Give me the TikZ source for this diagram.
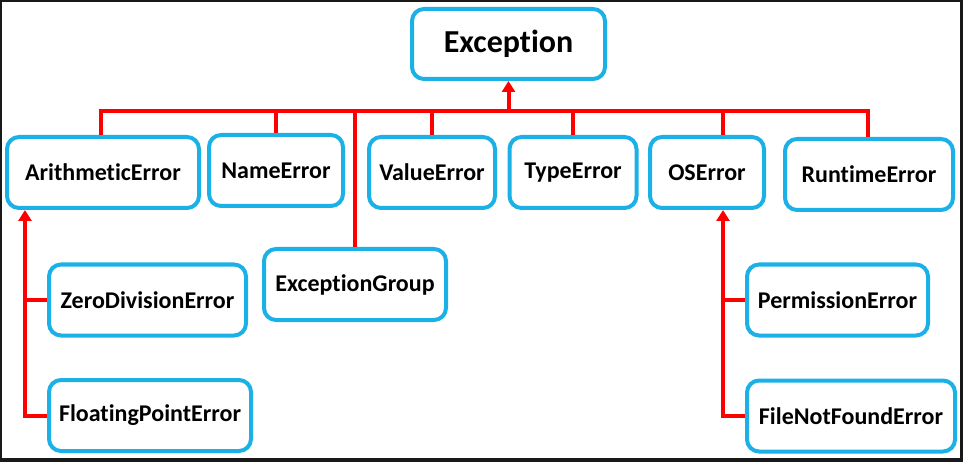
\documentclass[tikz,border=0pt]{standalone}
\usepackage{fontspec}
\setmainfont{Carlito}[Ligatures=NoCommon]
\usetikzlibrary{arrows.meta}
\usepackage{xcolor}
\definecolor{boxblue}{RGB}{27,177,231}
\definecolor{linkred}{RGB}{255,0,0}

\begin{document}
\begin{tikzpicture}[x=1pt, y=-1pt,
    cls/.style={draw=boxblue, line width=4pt, rounded corners=12pt, fill=white,
      font=\bfseries\fontsize{24}{27}\selectfont, minimum height=71pt, inner sep=0pt},
    link/.style={draw=linkred, line width=4pt},
    up/.style={link, -{Triangle[width=13pt,length=11pt]}}]
  % frame
  \fill[black!90] (0,0) rectangle (963,462);
  \fill[white] (2,2) rectangle (960,458);

  \node[cls, minimum width=193pt, minimum height=70pt, font=\bfseries\fontsize{32}{36}\selectfont] (exc) at (508.5,44) {Exception};
  \node[cls, minimum width=192pt] (arith) at (103,172.5) {ArithmeticError};
  \node[cls, minimum width=134pt] (name) at (276,170.5) {NameError};
  \node[cls, minimum width=126pt] (value) at (432,172.5) {ValueError};
  \node[cls, minimum width=127pt] (type) at (573,172.5) {TypeError};
  \node[cls, minimum width=114pt] (os) at (707,172.5) {OSError};
  \node[cls, minimum width=168pt] (runtime) at (869,174.5) {RuntimeError};
  \node[cls, minimum width=182pt] (group) at (355,284.5) {ExceptionGroup};
  \node[cls, minimum width=197pt] (zero) at (147.5,300) {ZeroDivisionError};
  \node[cls, minimum width=202pt] (float) at (150,415.5) {FloatingPointError};
  \node[cls, minimum width=181pt] (perm) at (837.5,300) {PermissionError};
  \node[cls, minimum width=208pt] (fnf) at (851,416) {FileNotFoundError};

  \coordinate (busL) at (101,111);
  \coordinate (busR) at (868,111);
  \coordinate (lroot) at (25,415);
  \coordinate (rroot) at (723,415);

  % bus to Exception
  \path[link] (busL |- arith.north) -- (busL) -- (busR) -- (busR |- runtime.north);
  \path[up] (exc.south |- busL) -- (exc.south);
  \foreach \n in {name, value, type, group}
    \path[link] (\n.north) -- (\n.north |- busL);
  \path[link] (rroot |- os.north) -- (rroot |- busL);

  % subclasses
  \path[link] (zero.west) -- (zero.west -| lroot);
  \path[up] (float.west) -| (lroot |- arith.south);
  \path[link] (perm.west) -- (perm.west -| rroot);
  \path[up] (fnf.west) -| (rroot |- os.south);
\end{tikzpicture}
\end{document}
